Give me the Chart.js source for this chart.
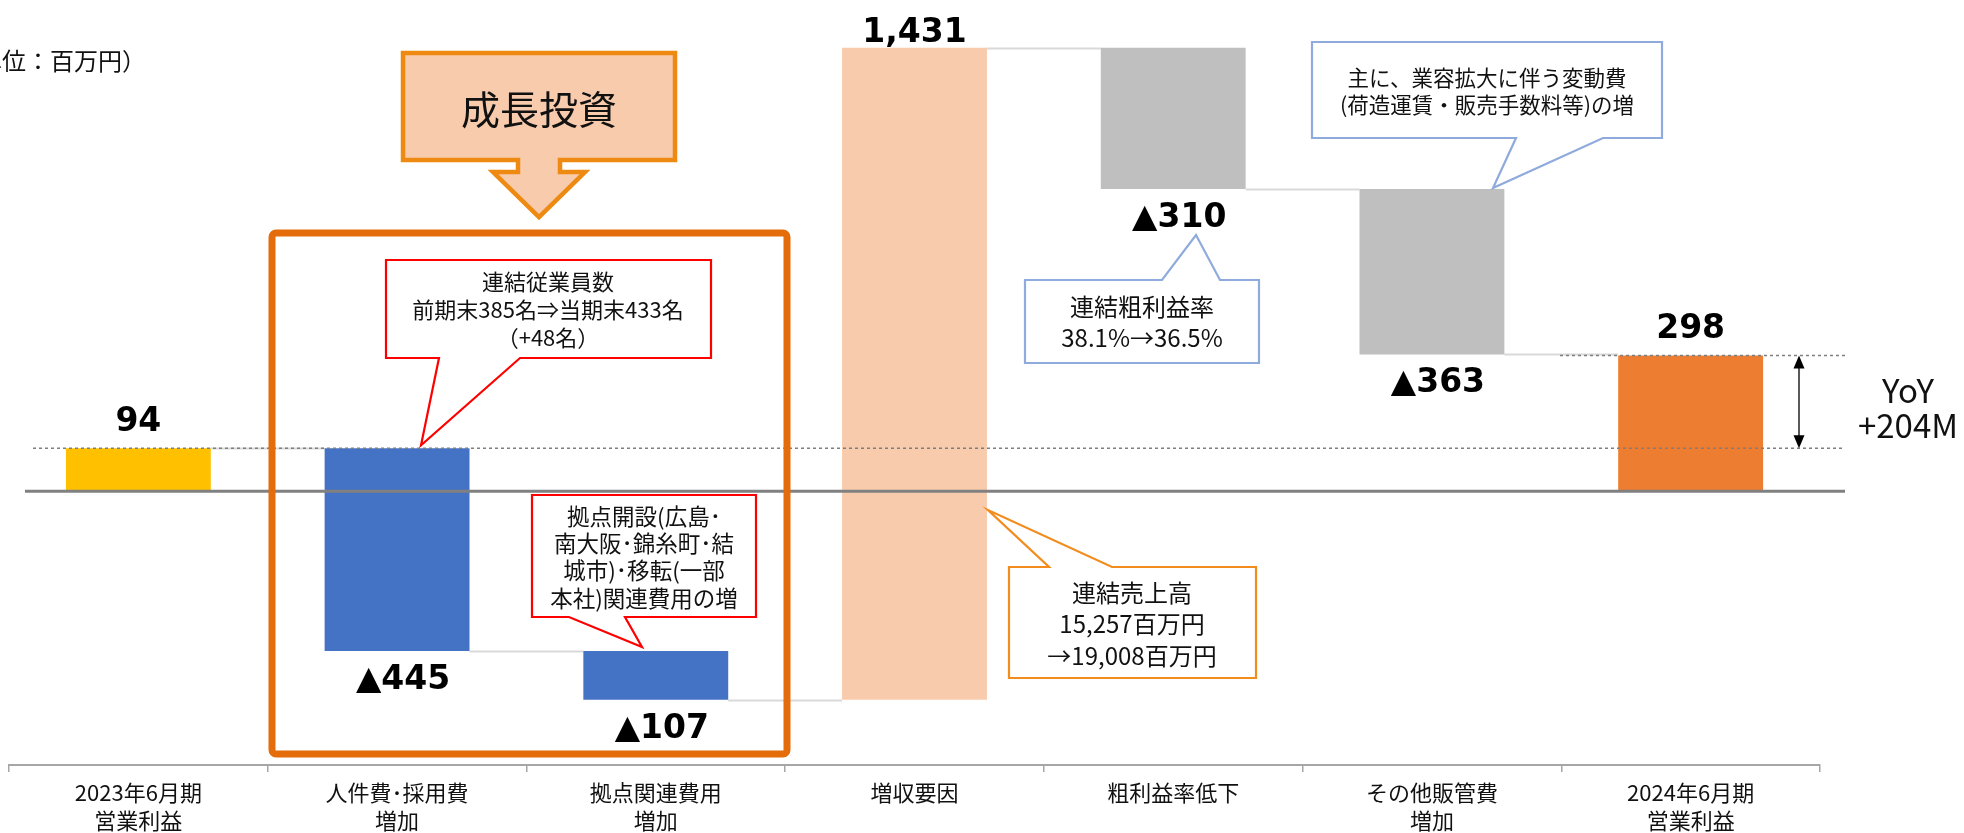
<!DOCTYPE html>
<html><head><meta charset="utf-8">
<script src="https://cdn.jsdelivr.net/npm/chart.js@4.4.1/dist/chart.umd.min.js"></script>
<style>html,body{margin:0;padding:0;background:#fff;overflow:hidden}#wrap{width:1964px;height:833px;position:relative}</style>
</head><body><div id="wrap"><canvas id="c" width="1964" height="833"></canvas></div>
<script>
// ---- data ----
const categories = [['2023年6月期','営業利益'],['人件費･採用費','増加'],['拠点関連費用','増加'],'増収要因','粗利益率低下',['その他販管費','増加'],['2024年6月期','営業利益']];
const values = [94, -445, -107, 1431, -310, -363, 298];
const isTotal = [true, false, false, false, false, false, true];
const barColors = ['#FFC000','#4472C4','#4472C4','#F8CBAD','#BFBFBF','#BFBFBF','#ED7D31'];
const yoyText = ['YoY', '+204M'];
const unitText = '（単位：百万円）';
const growthTitle = '成長投資';
const noteEmployees = ['連結従業員数','前期末385名⇒当期末433名','（+48名）'];
const noteOffices = ['拠点開設(広島･','南大阪･錦糸町･結','城市)･移転(一部','本社)関連費用の増'];
const noteMargin = ['連結粗利益率','38.1%→36.5%'];
const noteVariable = ['主に、業容拡大に伴う変動費','(荷造運賃・販売手数料等)の増'];
const noteSales = ['連結売上高','15,257百万円','→19,008百万円'];

// floating bars built from values
let cum = 0;
const floating = values.map((v,i)=>{ if(isTotal[i]){cum=v;return [0,v];} const s=cum; cum+=v; return [s,cum]; });
const labelText = values.map((v,i)=> (isTotal[i]||v>=0) ? v.toLocaleString('en-US') : '▲'+Math.abs(v).toLocaleString('en-US'));

const JP = "'Noto Sans CJK JP', 'Noto Sans', sans-serif";

function callout(ctx, o){
  const {x1,y1,x2,y2,side,b1,b2,tip,color} = o;
  ctx.save();
  ctx.beginPath();
  ctx.moveTo(x1,y1);
  if(side==='top'){ ctx.lineTo(b1,y1); ctx.lineTo(tip[0],tip[1]); ctx.lineTo(b2,y1); }
  ctx.lineTo(x2,y1); ctx.lineTo(x2,y2);
  if(side==='bottom'){ ctx.lineTo(b2,y2); ctx.lineTo(tip[0],tip[1]); ctx.lineTo(b1,y2); }
  ctx.lineTo(x1,y2); ctx.closePath();
  ctx.fillStyle='#fff'; ctx.fill();
  ctx.lineWidth=o.lw||2.2; ctx.strokeStyle=color; ctx.lineJoin='miter'; ctx.stroke();
  ctx.fillStyle='#111'; ctx.font=(o.size||22)+'px '+JP; ctx.textAlign='center'; ctx.textBaseline='middle';
  o.lines.forEach((t,k)=>ctx.fillText(t,o.tx,o.ty[k]));
  ctx.restore();
}

const connectors = {
  id:'connectors',
  beforeDatasetsDraw(chart){
    const ctx=chart.ctx, meta=chart.getDatasetMeta(0), y=chart.scales.y;
    ctx.save(); ctx.strokeStyle='#D9D9D9'; ctx.lineWidth=2;
    for(let i=0;i<floating.length-1;i++){
      const a=meta.data[i], b=meta.data[i+1];
      const yy=Math.round(y.getPixelForValue(floating[i][1]))+0.5;
      ctx.beginPath(); ctx.moveTo(a.x+a.width/2,yy); ctx.lineTo(b.x-b.width/2,yy); ctx.stroke();
    }
    ctx.restore();
  }
};

const overlay = {
  id:'overlay',
  afterDatasetsDraw(chart){
    const ctx=chart.ctx, meta=chart.getDatasetMeta(0), y=chart.scales.y;
    const y0=y.getPixelForValue(0), yStart=y.getPixelForValue(values[0]), yEnd=y.getPixelForValue(values[values.length-1]);
    ctx.save();
    // zero line
    ctx.strokeStyle='#808080'; ctx.lineWidth=3;
    ctx.beginPath(); ctx.moveTo(25,y0); ctx.lineTo(1845,y0); ctx.stroke();
    // dashed reference lines
    ctx.strokeStyle='#7F7F7F'; ctx.lineWidth=1.5; ctx.setLineDash([3,3]);
    ctx.beginPath(); ctx.moveTo(33,yStart); ctx.lineTo(1845,yStart); ctx.stroke();
    ctx.beginPath(); ctx.moveTo(1560,yEnd); ctx.lineTo(1845,yEnd); ctx.stroke();
    ctx.setLineDash([]);
    // YoY arrow
    const ax=1799;
    ctx.strokeStyle='#000'; ctx.lineWidth=1.3;
    ctx.beginPath(); ctx.moveTo(ax,yEnd+8); ctx.lineTo(ax,yStart-8); ctx.stroke();
    ctx.fillStyle='#000';
    ctx.beginPath(); ctx.moveTo(ax,yEnd); ctx.lineTo(ax-5.5,yEnd+13); ctx.lineTo(ax+5.5,yEnd+13); ctx.closePath(); ctx.fill();
    ctx.beginPath(); ctx.moveTo(ax,yStart); ctx.lineTo(ax-5.5,yStart-13); ctx.lineTo(ax+5.5,yStart-13); ctx.closePath(); ctx.fill();
    ctx.font='33px '+JP; ctx.textAlign='center'; ctx.textBaseline='middle'; ctx.fillStyle='#111';
    ctx.fillText(yoyText[0],1908,390); ctx.fillText(yoyText[1],1908,425);
    // bar value labels
    ctx.font="bold 33px 'DejaVu Sans', sans-serif"; ctx.fillStyle='#000'; ctx.textAlign='center'; ctx.textBaseline='alphabetic';
    meta.data.forEach((el,i)=>{
      const top=Math.min(el.y,el.base), bot=Math.max(el.y,el.base);
      if(isTotal[i]||values[i]>=0){ ctx.fillText(labelText[i], el.x, Math.max(top-17,42)); }
      else { ctx.fillText(labelText[i], el.x+6, bot+38); }
    });
    // unit label
    ctx.font='24px '+JP; ctx.textAlign='right'; ctx.textBaseline='middle'; ctx.fillStyle='#111';
    ctx.fillText(unitText,146,61);
    // growth investment bracket
    ctx.strokeStyle='#E46C0A'; ctx.lineWidth=7;
    ctx.beginPath(); ctx.roundRect(272,233,515,521,4); ctx.stroke();
    // growth arrow callout
    ctx.beginPath();
    ctx.moveTo(403,53); ctx.lineTo(675,53); ctx.lineTo(675,160); ctx.lineTo(560,160); ctx.lineTo(560,172);
    ctx.lineTo(585,172); ctx.lineTo(539,217); ctx.lineTo(493,172); ctx.lineTo(518,172); ctx.lineTo(518,160);
    ctx.lineTo(403,160); ctx.closePath();
    ctx.fillStyle='#F8CBAD'; ctx.fill(); ctx.strokeStyle='#EE8A12'; ctx.lineWidth=4.5; ctx.stroke();
    ctx.fillStyle='#111'; ctx.font='39px '+JP; ctx.textAlign='center'; ctx.textBaseline='middle';
    ctx.fillText(growthTitle,539,109);
    ctx.restore();
    // callouts
    callout(ctx,{x1:386,y1:260,x2:711,y2:358,side:'bottom',b1:439,b2:520,tip:[421,yStart-3],color:'#FF0000',lines:noteEmployees,tx:548,ty:[282,310,338]});
    callout(ctx,{x1:532,y1:495,x2:756,y2:617,side:'bottom',b1:569,b2:625,tip:[642,647],color:'#FF0000',lines:noteOffices,tx:644,ty:[516,543,570,598],size:22.5});
    callout(ctx,{x1:1025,y1:280,x2:1259,y2:363,side:'top',b1:1162,b2:1220,tip:[1196,235],color:'#8FAADC',lines:noteMargin,tx:1142,ty:[307,338],size:24});
    callout(ctx,{x1:1312,y1:42,x2:1662,y2:138,side:'bottom',b1:1516,b2:1603,tip:[1493,188],color:'#8FAADC',lines:noteVariable,tx:1487,ty:[78,105],size:21.5});
    callout(ctx,{x1:1009,y1:567,x2:1256,y2:678,side:'top',b1:1049,b2:1112,tip:[988,510],color:'#F28C1E',lines:noteSales,tx:1132,ty:[593,624,656],size:24});
  }
};

new Chart(document.getElementById('c'),{
  type:'bar',
  data:{labels:categories,datasets:[{data:floating,backgroundColor:barColors,borderWidth:0,barPercentage:0.56,categoryPercentage:1}]},
  options:{
    responsive:false, animation:false, devicePixelRatio:1,
    layout:{padding:{left:9,right:144,top:0,bottom:0}},
    plugins:{legend:{display:false},tooltip:{enabled:false}},
    scales:{
      x:{
        grid:{offset:true,drawOnChartArea:false,drawTicks:true,tickLength:7,color:'#A6A6A6',lineWidth:1.5},
        border:{display:true,color:'#A6A6A6',width:2},
        ticks:{color:'#111',font:{family:JP,size:22,lineHeight:1.3},padding:6,maxRotation:0,autoSkip:false},
        afterFit(s){ s.height=68; }
      },
      y:{display:false,min:-601,max:1078}
    }
  },
  plugins:[connectors,overlay]
});
</script></body></html>
